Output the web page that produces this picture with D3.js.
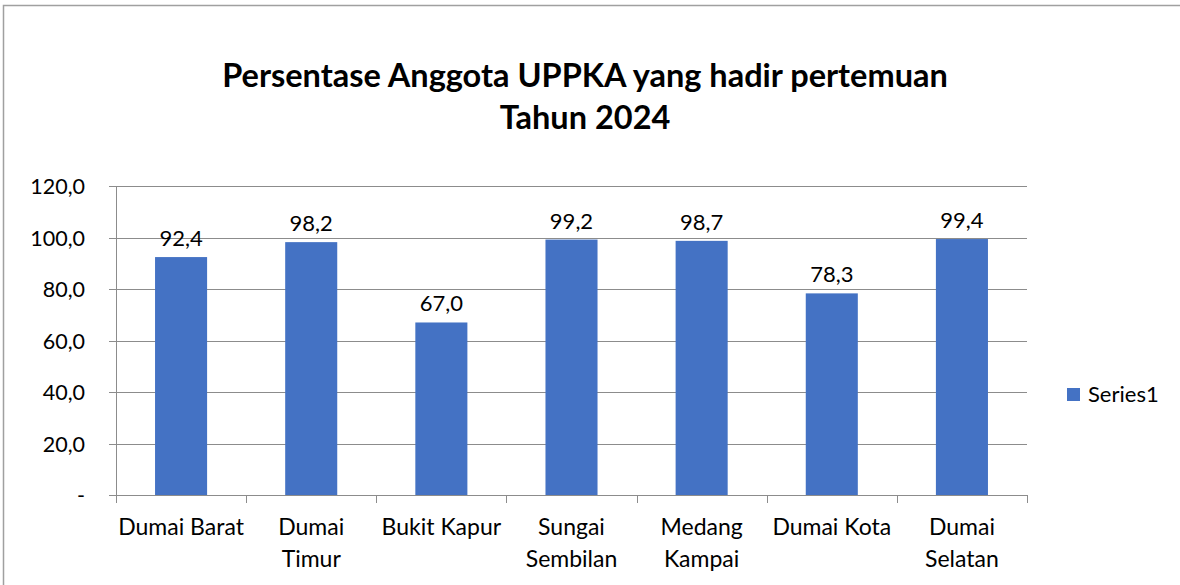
<!DOCTYPE html>
<html>
<head>
<meta charset="utf-8">
<script src="https://cdn.jsdelivr.net/npm/d3@7"></script>
<style>
body { margin: 0; background: #fff; }
text { font-family: Lato, "Open Sans", sans-serif; fill: #000; }
</style>
</head>
<body>
<script>
// data
var kecamatan = ["Dumai Barat", "Dumai Timur", "Bukit Kapur", "Sungai Sembilan", "Medang Kampai", "Dumai Kota", "Dumai Selatan"];
var labelLines = [["Dumai Barat"], ["Dumai", "Timur"], ["Bukit Kapur"], ["Sungai", "Sembilan"], ["Medang", "Kampai"], ["Dumai Kota"], ["Dumai", "Selatan"]];
var persen = [92.4, 98.2, 67.0, 99.2, 98.7, 78.3, 99.4];
var yTicks = [0, 20, 40, 60, 80, 100, 120];
var titleLines = ["Persentase Anggota UPPKA yang hadir pertemuan", "Tahun 2024"];
var seriesName = "Series1";

var width = 1180, height = 585;
var plot = {left: 116, right: 1027, top: 186, bottom: 495};
var barColor = "#4472C4";
var lineColor = "#8c8c8c";

var loc = d3.formatLocale({decimal: ",", thousands: ".", grouping: [3], currency: ["", ""]});
var fmt = loc.format(".1f");

var svg = d3.select("body").append("svg")
    .attr("width", width)
    .attr("height", height);

// chart border
svg.append("rect")
    .attr("x", 3.5).attr("y", 5.5)
    .attr("width", width + 10).attr("height", height + 10)
    .attr("fill", "none")
    .attr("stroke", "#a0a0a0")
    .attr("stroke-width", 1.5);

// title
svg.append("text")
    .attr("x", 585)
    .attr("text-anchor", "middle")
    .attr("font-size", "32.5px")
    .attr("font-weight", "bold")
    .selectAll("tspan")
    .data(titleLines)
    .enter()
    .append("tspan")
    .attr("x", 585)
    .attr("y", function(d, i) { return 87 + i * 42; })
    .text(function(d) { return d; });

var xScale = d3.scaleBand()
    .domain(kecamatan)
    .range([plot.left, plot.right])
    .paddingInner(0.6)
    .paddingOuter(0.3);

var yScale = d3.scaleLinear()
    .domain([0, 120])
    .range([plot.bottom, plot.top]);

// grid lines
svg.append("g")
    .selectAll("line")
    .data(yTicks)
    .enter()
    .append("line")
    .attr("x1", plot.left - 7)
    .attr("x2", plot.right)
    .attr("y1", function(d) { return Math.round(yScale(d)) + 0.5; })
    .attr("y2", function(d) { return Math.round(yScale(d)) + 0.5; })
    .attr("stroke", lineColor)
    .attr("stroke-width", 1);

// y axis
var yAxis = d3.axisLeft(yScale)
    .tickValues(yTicks)
    .tickSize(0)
    .tickPadding(31)
    .tickFormat(function(d) { return d === 0 ? "-" : fmt(d); });
var yAxisG = svg.append("g")
    .attr("transform", "translate(" + plot.left + ",0)")
    .call(yAxis);
yAxisG.select(".domain").remove();
yAxisG.selectAll("text")
    .attr("font-size", "21.5px")
    .attr("font-family", "Lato, 'Open Sans', sans-serif")
    .attr("dy", "0.35em");

svg.append("line")
    .attr("x1", plot.left + 0.5).attr("x2", plot.left + 0.5)
    .attr("y1", plot.top).attr("y2", plot.bottom + 8)
    .attr("stroke", lineColor);

// bars
svg.append("g")
    .selectAll("rect")
    .data(persen)
    .enter()
    .append("rect")
    .attr("x", function(d, i) { return xScale(kecamatan[i]); })
    .attr("y", function(d) { return yScale(d); })
    .attr("width", xScale.bandwidth())
    .attr("height", function(d) { return plot.bottom - yScale(d); })
    .attr("fill", barColor);

// value labels
svg.append("g")
    .selectAll("text")
    .data(persen)
    .enter()
    .append("text")
    .attr("x", function(d, i) { return xScale(kecamatan[i]) + xScale.bandwidth() / 2; })
    .attr("y", function(d) { return yScale(d) - 11; })
    .attr("text-anchor", "middle")
    .attr("font-size", "22px")
    .text(function(d) { return fmt(d); });

// x axis
var step = xScale.step();
var xAxisG = svg.append("g");
xAxisG.append("line")
    .attr("x1", plot.left).attr("x2", plot.right)
    .attr("y1", plot.bottom + 0.5).attr("y2", plot.bottom + 0.5)
    .attr("stroke", lineColor);
xAxisG.selectAll(".tick")
    .data(d3.range(kecamatan.length + 1))
    .enter()
    .append("line")
    .attr("x1", function(d) { return Math.round(plot.left + d * step) + 0.5; })
    .attr("x2", function(d) { return Math.round(plot.left + d * step) + 0.5; })
    .attr("y1", plot.bottom)
    .attr("y2", plot.bottom + 8)
    .attr("stroke", lineColor);

var xLabels = xAxisG.selectAll(".xlabel")
    .data(labelLines)
    .enter()
    .append("text")
    .attr("class", "xlabel")
    .attr("text-anchor", "middle")
    .attr("font-size", "23px");
xLabels.selectAll("tspan")
    .data(function(d, i) { return d.map(function(t) { return {t: t, i: i}; }); })
    .enter()
    .append("tspan")
    .attr("x", function(d) { return xScale(kecamatan[d.i]) + xScale.bandwidth() / 2; })
    .attr("y", function(d, j) { return 535 + j * 32; })
    .text(function(d) { return d.t; });

// legend
svg.append("rect")
    .attr("x", 1067).attr("y", 388)
    .attr("width", 13).attr("height", 13)
    .attr("fill", barColor);
svg.append("text")
    .attr("x", 1088).attr("y", 402)
    .attr("font-size", "22px")
    .text(seriesName);
</script>
</body>
</html>
